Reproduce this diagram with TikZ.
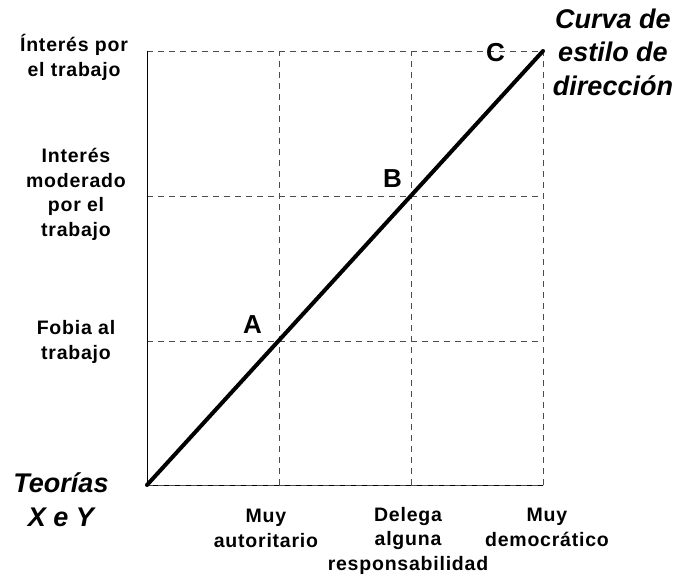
\documentclass[tikz,border=0pt]{standalone}
\usepackage{fontspec}
\setmainfont{Liberation Sans}
\newfontfamily\labfont[LetterSpace=4]{Liberation Sans}
\begin{document}
\begin{tikzpicture}[x=1pt,y=-1pt,
  lab/.style={font=\labfont\bfseries\fontsize{19.5}{24.5}\selectfont,align=center,inner sep=0pt,anchor=base},
  big/.style={font=\bfseries\itshape\fontsize{27}{33.5}\selectfont,align=center,inner sep=0pt,anchor=base},
  pt/.style={font=\bfseries\fontsize{26}{28}\selectfont,inner sep=0pt,anchor=base},
  grid/.style={dash pattern=on 6pt off 5pt,draw=black!70,line width=0.8pt},
  curve/.style={line width=4pt}]
\useasboundingbox (0,0) rectangle (680,574);
\coordinate (O) at (147,485);
\coordinate (T) at (147,51);
\coordinate (R) at (543,485);
\coordinate (C1) at (543,51);
\coordinate (x1) at (279,485);
\coordinate (x2) at (411,485);
\coordinate (y1) at (147,341);
\coordinate (y2) at (147,196);
\coordinate (x1t) at (279,51);
\coordinate (x2t) at (411,51);
\coordinate (y1r) at (543,341);
\coordinate (y2r) at (543,196);
% grid
\draw[grid] (x1) -- (x1t);
\draw[grid] (x2) -- (x2t);
\draw[grid] (R) -- (C1);
\draw[grid] (y1) -- (y1r);
\draw[grid] (y2) -- (y2r);
\draw[grid] (T) -- (C1);
% axes
\draw[line width=0.9pt] (T) -- (O) -- (R);
\draw[grid] (O) -- (R);
% curve
\draw[curve,line cap=round] (O) -- (C1);
% points
\node[pt] (A) at (252.5,333) {A};
\node[pt] (B) at (392.5,187) {B};
\node[pt] (C) at (495.5,61) {C};
% left labels (anchor = baseline of last line)
\node[lab] (l1) at (74,76) {Ínterés por\\el trabajo};
\node[lab] (l2) at (76,236) {Interés\\moderado\\por el\\trabajo};
\node[lab] (l3) at (76,359) {Fobia al\\trabajo};
% bottom labels
\node[lab] (b1) at (266,547) {Muy\\autoritario};
\node[lab] (b2) at (408,570) {Delega\\alguna\\responsabilidad};
\node[lab] (b3) at (547,546) {Muy\\democrático};
% titles
\node[big] (t1) at (613,95) {Curva de\\estilo de\\dirección};
\node[big] (t2) at (61,526) {Teorías\\X e Y};
\end{tikzpicture}
\end{document}
